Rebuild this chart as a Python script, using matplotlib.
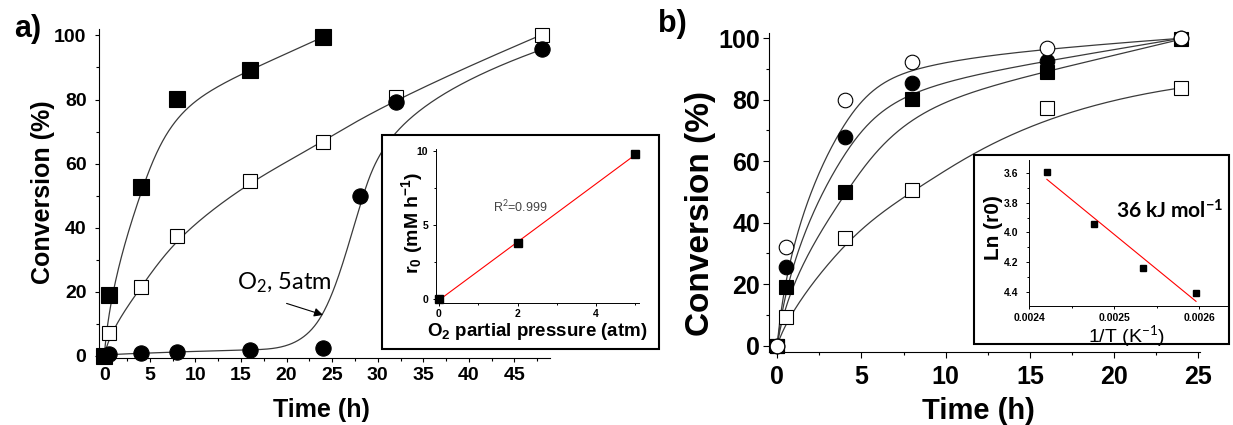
import numpy as np
import matplotlib
matplotlib.use('Agg')
import matplotlib.pyplot as plt
from matplotlib.patches import Rectangle
from matplotlib.ticker import MultipleLocator, FormatStrFormatter

plt.rcParams['font.family'] = ['Liberation Sans', 'DejaVu Sans']
plt.rcParams['mathtext.fontset'] = 'custom'
plt.rcParams['mathtext.rm'] = 'Lato'
plt.rcParams['mathtext.bf'] = 'Liberation Sans:bold'
plt.rcParams['mathtext.sf'] = 'Lato:bold'
plt.rcParams['mathtext.it'] = 'Liberation Sans'

# ---------------- data: panel a ----------------
a_sq_filled_t = [0, 0.5, 4, 8, 16, 24]
a_sq_filled = [0, 19.0, 52.7, 80.1, 89.1, 99.5]
a_sq_open_t = [0, 0.5, 4, 8, 16, 24, 32, 48]
a_sq_open = [0, 7.1, 21.4, 37.4, 54.6, 66.6, 80.8, 100.2]
a_circ_t = [0, 0.5, 4, 8, 16, 24, 28, 32, 48]
a_circ = [0, 0.5, 0.8, 1.3, 1.9, 2.6, 49.9, 79.2, 95.6]
a_xticks = [0, 5, 10, 15, 20, 25, 30, 35, 40, 45]
a_yticks = [0, 20, 40, 60, 80, 100]

# inset a
o2_pressure = [0, 2, 5]
r0_rate = [0, 3.77, 9.78]
r2_text = 'R$^2$=0.999'

# ---------------- data: panel b ----------------
b_t = [0, 0.5, 4, 8, 16, 24]
b_circ_open = [0, 32.2, 80.0, 92.2, 96.7, 100.0]
b_circ_filled = [0, 25.5, 68.0, 85.6, 92.6, 100.0]
b_sq_filled = [0, 19.0, 50.1, 80.2, 89.1, 99.7]
b_sq_open = [0, 9.2, 35.1, 50.6, 77.4, 83.9]
b_xticks = [0, 5, 10, 15, 20, 25]
b_yticks = [0, 20, 40, 60, 80, 100]

# inset b
inv_T = [0.002421, 0.002476, 0.002534, 0.002596]
ln_r0 = [3.59, 3.94, 4.24, 4.41]
ea_text = '36 kJ mol$^{\\mathsf{-1}}$'


def bspline(x, y, k=3, n=400):
    """Clamped uniform B-spline using the data points as control points."""
    P = np.column_stack([x, y]).astype(float)
    m = len(P)
    k = min(k, m - 1)
    inner = np.linspace(0, 1, m - k + 1)
    t = np.concatenate([np.zeros(k), inner, np.ones(k)])
    out = []
    for u in np.linspace(0, 1, n):
        s = m - 1 if u >= 1 else np.searchsorted(t, u, side='right') - 1
        d = [P[j + s - k].copy() for j in range(k + 1)]
        for r in range(1, k + 1):
            for j in range(k, r - 1, -1):
                den = t[j + 1 + s - r] - t[j + s - k]
                al = 0.0 if den == 0 else (u - t[j + s - k]) / den
                d[j] = (1 - al) * d[j - 1] + al * d[j]
        out.append(d[k])
    out = np.array(out)
    return out[:, 0], out[:, 1]


W, H = 1233, 425
fig = plt.figure(figsize=(W / 100, H / 100), dpi=100)


def px_axes(l, t, r, b, **kw):
    return fig.add_axes([l / W, 1 - b / H, (r - l) / W, (b - t) / H], **kw)


def ftext(x, y, s, **kw):
    kw.setdefault('ha', 'center')
    kw.setdefault('va', 'center')
    return fig.text(x / W, 1 - y / H, s, **kw)


def style_axes(ax, fs, lw=0.8, maj=3, mino=2, padx=3, pady=3):
    for sp in ['top', 'right']:
        ax.spines[sp].set_visible(False)
    for sp in ['left', 'bottom']:
        ax.spines[sp].set_linewidth(lw)
    ax.tick_params(which='major', direction='out', length=maj, width=lw)
    ax.tick_params(which='minor', direction='out', length=mino, width=lw)
    ax.tick_params(axis='x', pad=padx)
    ax.tick_params(axis='y', pad=pady)
    for lab in ax.get_xticklabels() + ax.get_yticklabels():
        lab.set_fontsize(fs)
        lab.set_fontweight('bold')


LC = '#3a3a3a'

# ================= panel a =================
axa = px_axes(99, 29.3, 550, 358.3)
axa.set_xlim(-0.58, 48.9)
axa.set_ylim(-0.72, 101.9)
for tt, yy, mk, fc, ms in [
    (a_sq_open_t, a_sq_open, 's', 'white', 9.5),
    (a_circ_t, a_circ, 'o', 'black', 11),
    (a_sq_filled_t, a_sq_filled, 's', 'black', 11),
]:
    cx, cy = bspline(tt, yy)
    axa.plot(cx, cy, color=LC, lw=0.9, zorder=2)
    axa.plot(tt, yy, ls='none', marker=mk, ms=ms, mfc=fc, mec='black',
             mew=0.8, zorder=3, clip_on=False)
axa.set_xticks(a_xticks)
axa.set_yticks(a_yticks)
axa.xaxis.set_minor_locator(MultipleLocator(2.5))
axa.yaxis.set_minor_locator(MultipleLocator(10))
style_axes(axa, 14, padx=3, pady=6)

arrow_tail = (20.0, 16.4)
arrow_head = (24.0, 12.8)
axa.annotate('', xy=arrow_head, xytext=arrow_tail,
             arrowprops=dict(arrowstyle='-|>', color='black', lw=0.8,
                             mutation_scale=13, shrinkA=0, shrinkB=0))
ftext(284, 283, 'O$_2$, 5atm', fontsize=17, family='Lato')

ftext(42.7, 192, 'Conversion (%)', fontsize=18, fontweight='bold', rotation=90)
ftext(321, 410, 'Time (h)', fontsize=18, fontweight='bold')
ftext(28, 29, 'a)', fontsize=22, fontweight='bold')

# inset a box
fig.patches.append(Rectangle((381.7 / W, 1 - 349.3 / H), (659 - 381.7) / W,
                             (349.3 - 135) / H, transform=fig.transFigure,
                             facecolor='white', edgecolor='black', lw=1.5,
                             zorder=2))
axia = px_axes(436, 149, 639.3, 303.3)
axia.set_zorder(3)
axia.set_facecolor('none')
axia.set_xlim(-0.076, 5.097)
axia.set_ylim(-0.27, 10.12)
fit_a = np.polyfit(o2_pressure, r0_rate, 1)
xa_line = np.array([min(o2_pressure), max(o2_pressure)])
axia.plot(xa_line, np.polyval(fit_a, xa_line), color='red', lw=0.8, zorder=2)
axia.plot(o2_pressure, r0_rate, ls='none', marker='s', ms=5.5, mfc='black',
          mec='black', zorder=3, clip_on=False)
axia.set_xticks([0, 2, 4])
axia.set_yticks([0, 5, 10])
axia.xaxis.set_minor_locator(MultipleLocator(1))
axia.yaxis.set_minor_locator(MultipleLocator(2.5))
style_axes(axia, 7.5, lw=0.7, maj=2, mino=1.5, padx=2.4, pady=3.6)
ftext(520, 207, r2_text, fontsize=9, color='#444444')
ftext(411.7, 223, 'r$_\\mathbf{0}$ (mM h$^\\mathbf{-1}$)', fontsize=14,
      fontweight='bold', rotation=90)
ftext(537, 331.7, 'O$_\\mathbf{2}$ partial pressure (atm)', fontsize=13.5,
      fontweight='bold')

# ================= panel b =================
axb = px_axes(769, 32.7, 1200, 352.3)
axb.set_xlim(-0.49, 25.1)
axb.set_ylim(-2.15, 101.8)
for yy, mk, fc, ms in [
    (b_sq_open, 's', 'white', 9.5),
    (b_sq_filled, 's', 'black', 9.5),
    (b_circ_filled, 'o', 'black', 10.5),
    (b_circ_open, 'o', 'white', 10.5),
]:
    cx, cy = bspline(b_t, yy)
    axb.plot(cx, cy, color=LC, lw=0.9, zorder=2)
    axb.plot(b_t, yy, ls='none', marker=mk, ms=ms, mfc=fc, mec='black',
             mew=0.8, zorder=3, clip_on=False)
axb.set_xticks(b_xticks)
axb.set_yticks(b_yticks)
axb.xaxis.set_minor_locator(MultipleLocator(2.5))
axb.yaxis.set_minor_locator(MultipleLocator(10))
style_axes(axb, 18, maj=4, mino=2.5, padx=5, pady=2.5)

ftext(700.7, 214, 'Conversion (%)', fontsize=24, fontweight='bold', rotation=90)
ftext(978, 411, 'Time (h)', fontsize=21, fontweight='bold')
ftext(672, 24, 'b)', fontsize=22, fontweight='bold')

# inset b box
fig.patches.append(Rectangle((974 / W, 1 - 344.3 / H), (1229 - 974) / W,
                             (344.3 - 155) / H, transform=fig.transFigure,
                             facecolor='white', edgecolor='black', lw=1.5,
                             zorder=2))
axib = px_axes(1029, 160, 1226.7, 306)
axib.set_zorder(3)
axib.set_facecolor('none')
axib.set_xlim(0.0024, 0.002632)
axib.set_ylim(4.497, 3.51)
fit_b = np.polyfit(inv_T, ln_r0, 1)
xb_line = np.array([min(inv_T), max(inv_T)])
axib.plot(xb_line, np.polyval(fit_b, xb_line), color='red', lw=0.8, zorder=2)
axib.plot(inv_T, ln_r0, ls='none', marker='s', ms=4.5, mfc='black',
          mec='black', zorder=3, clip_on=False)
axib.set_xticks([0.0024, 0.0025, 0.0026])
axib.set_yticks([3.6, 3.8, 4.0, 4.2, 4.4])
axib.xaxis.set_major_formatter(FormatStrFormatter('%.4f'))
axib.yaxis.set_major_formatter(FormatStrFormatter('%.1f'))
axib.xaxis.set_minor_locator(MultipleLocator(0.00005))
axib.yaxis.set_minor_locator(MultipleLocator(0.1))
style_axes(axib, 7.5, lw=0.7, maj=2.2, mino=1.5, padx=3, pady=5.5)
ftext(993.3, 228, 'Ln (r0)', fontsize=15, fontweight='bold', rotation=90)
ftext(1126.7, 336, '1/T (K$^{-1}$)', fontsize=14)
ftext(1170, 211, ea_text, fontsize=15, family='Lato', fontweight='bold')

fig.savefig('out.png', dpi=100)
